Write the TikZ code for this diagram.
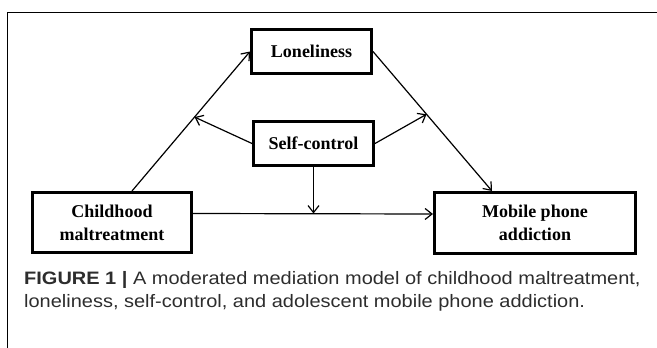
\documentclass[tikz,border=0pt]{standalone}
\usepackage{fontspec}
\setmainfont{Liberation Serif}
\newfontfamily\capfont[FakeStretch=1.11]{Liberation Sans}
\usetikzlibrary{arrows.meta, positioning, calc}
\definecolor{capgray}{RGB}{45,45,45}

\begin{document}
\begin{tikzpicture}[x=1pt, y=-1pt,
    varbox/.style={draw, line width=3pt, minimum width=#1, inner sep=2pt,
        align=center, font=\fontsize{18}{23}\selectfont\bfseries},
    path/.style={line width=1.2pt, -{Straight Barb[length=7pt, width=11pt, line width=1.2pt]}}]
    \useasboundingbox (0,0) rectangle (657,348);
    % Frame
    \draw[line width=1pt] (7,348) -- (7,12) -- (657,12);

    % Variables
    \node[varbox=120pt, minimum height=44pt] (lone) at (311.5,51.5) {Loneliness};
    \node[varbox=120pt, minimum height=44pt] (self) at (313.5,143.5) {Self-control};
    \node[varbox=159pt, minimum height=60pt] (child) at (112,222.5) {Childhood\\maltreatment};
    \node[varbox=201pt, minimum height=61pt] (mob) at (535,223) {Mobile phone\\addiction};

    % Paths
    \draw[path] ([xshift=20pt]child.north) -- (lone.west);
    \draw[path] (lone.east) -- ([xshift=-43pt]mob.north);
    \draw[path] ([yshift=9pt]child.east) -- ([yshift=9pt]mob.west);

    % Moderation
    \coordinate (mleft) at ($([xshift=20pt]child.north)!0.53!(lone.west)$);
    \coordinate (mright) at ($(lone.east)!0.45!([xshift=-43pt]mob.north)$);
    \coordinate (mdown) at ([yshift=9pt]child.east);
    \draw[path] (self.west) -- (mleft);
    \draw[path] (self.east) -- (mright);
    \draw[path] (self.south) -- (self.south |- mdown);

    % Caption
    \node[anchor=north west, align=left, text=capgray, inner sep=0pt,
        font=\capfont\fontsize{18}{23}\selectfont] (caption) at (24,271)
        {\textbf{FIGURE 1 |} A moderated mediation model of childhood maltreatment,\\
        loneliness, self-control, and adolescent mobile phone addiction.};
\end{tikzpicture}
\end{document}
